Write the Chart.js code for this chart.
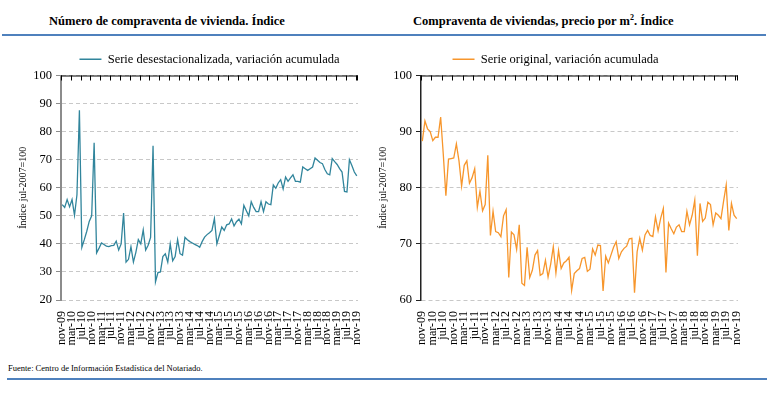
<!DOCTYPE html>
<html lang="es">
    <head>
        <meta charset="UTF-8" />
        <title>Compraventa de viviendas</title>
        <style>
            body {
                margin: 0;
                width: 770px;
                height: 399px;
                background: #fff;
                font-family: "Liberation Serif", "Times New Roman", serif;
                position: relative;
                overflow: hidden;
            }
            .titulo {
                position: absolute;
                top: 14px;
                font-weight: bold;
                font-size: 12.5px;
                white-space: nowrap;
            }
            .titulo sup {
                font-size: 8px;
                line-height: 0;
            }
            .linea {
                position: absolute;
                height: 2px;
                background: #4f81bd;
            }
            .fuente {
                position: absolute;
                left: 8px;
                top: 363px;
                font-size: 8.5px;
            }
            canvas {
                position: absolute;
            }
        </style>
        <script src="https://cdn.jsdelivr.net/npm/chart.js"></script>
    </head>
    <body>
        <div class="titulo" style="left: 49px">Número de compraventa de vivienda. Índice</div>
        <div class="titulo" style="left: 413px">Compraventa de viviendas, precio por m<sup>2</sup>. Índice</div>
        <div class="linea" style="left: 2px; top: 34px; width: 764px"></div>

        <canvas id="izq" width="385" height="310" style="left: 0; top: 40px"></canvas>
        <canvas id="der" width="400" height="310" style="left: 370px; top: 40px"></canvas>

        <div class="fuente">Fuente: Centro de Información Estadística del Notariado.</div>
        <div class="linea" style="left: 7px; top: 378px; width: 760px"></div>

        <script>
            // meses nov-09 ... nov-19
            const nombresMes = ["ene", "feb", "mar", "abr", "may", "jun", "jul", "ago", "sep", "oct", "nov", "dic"];
            const meses = [];
            for (let i = 0; i < 121; i++) {
                const m = (10 + i) % 12;
                const a = 9 + Math.floor((10 + i) / 12);
                meses.push(nombresMes[m] + "-" + String(a).padStart(2, "0"));
            }

            // Número de compraventas, serie desestacionalizada (jul-2007=100)
            const numeroCompraventas = [
                54, 53, 55.8, 53.2, 55.8, 50.2, 57.5, 87.6, 38.8, 41.5,
                44.5, 48, 50, 76, 36.8, 38.5, 40.3, 39.8, 39.2, 39,
                39.4, 39.5, 41, 37.8, 40, 51, 33.5, 34.5, 39, 33.5,
                37, 41.5, 40, 45, 37.8, 39.5, 42.3, 75, 26.5, 29.8,
                30, 35.5, 36.5, 33.5, 40, 34, 35.5, 41.5, 36.5, 36,
                42.3, 41.5, 40.8, 40.3, 39.8, 39.4, 38.8, 40.8, 42.4, 43.3,
                44, 44.8, 49, 40, 43, 46, 44.8, 46.8, 47.1, 48.9,
                46.4, 47.9, 48.8, 47.1, 53.7, 51.8, 50, 55, 53, 51.5,
                51.5, 55, 51.5, 55, 54.2, 54, 61, 59.8, 61.7, 62.9,
                59.6, 63.8, 62.3, 63.5, 64.6, 62.3, 62.3, 62, 67.4, 66.8,
                66.2, 66.8, 67.4, 70.6, 69.8, 69, 68.6, 66.5, 65, 64.6,
                70.4, 69.3, 68.3, 66.8, 65.6, 58.7, 58.5, 70, 67.9, 65.6,
                64.2
            ];

            // Precio por m2, serie original (jul-2007=100)
            const precioM2 = [
                88.3, 91.9, 90.5, 90, 88.4, 89, 89, 92.6, 86, 78.6,
                85.1, 85.2, 85.3, 87.8, 84.8, 80.3, 84, 84.8, 80.8, 81.8,
                83.4, 76.5, 79.4, 75.9, 77, 85.8, 71.5, 75.8, 72.2, 72,
                71.3, 75, 76.1, 64, 72.1, 71.6, 69, 73.4, 63, 62.6,
                69.4, 64, 65.3, 68, 68.8, 64.4, 64.7, 67.1, 64.1, 66.4,
                69.5, 64.8, 68.8, 65.6, 66.6, 67, 67.6, 61.7, 64.7, 65.2,
                65.6, 67.4, 67.6, 65.1, 65.5, 69.1, 68, 69.8, 69.7, 61.6,
                67.8, 66.6, 68, 69.4, 70.4, 67.4, 68.6, 69.2, 69.6, 70.9,
                71, 61.3, 68.6, 71, 68.9, 71.6, 72.4, 71.5, 71.3, 74.8,
                72.3, 74.6, 76.3, 64.9, 73.7, 72.7, 71.8, 73, 73.4, 72.2,
                72.2, 75.8, 73.4, 75.1, 77.8, 67.9, 77.2, 74, 74.6, 77.4,
                77, 73.4, 75.5, 75.1, 74.5, 77.6, 80.5, 72.4, 77.2, 75.1,
                74.5
            ];

            const rangoIzq = [20, 100];
            const rangoDer = [60, 100];
            const tituloEjeY = "Índice jul-2007=100";
            const fuente = "'Liberation Serif', 'Times New Roman', serif";

            // linea superior con marcas cada 4 meses (eje de categorias arriba)
            const ejeSuperior = {
                id: "ejeSuperior",
                afterDatasetsDraw(chart) {
                    const { ctx, chartArea: a, scales } = chart;
                    const x = scales.x;
                    const paso = x.getPixelForValue(1) - x.getPixelForValue(0);
                    ctx.save();
                    ctx.strokeStyle = "#000";
                    ctx.lineWidth = 1;
                    ctx.beginPath();
                    ctx.moveTo(a.left, a.top + 0.5);
                    ctx.lineTo(a.right, a.top + 0.5);
                    for (let i = 0; i <= meses.length; i += 4) {
                        const px = Math.round(x.getPixelForValue(i) - paso / 2) + 0.5;
                        ctx.moveTo(px, a.top);
                        ctx.lineTo(px, a.top + 5);
                    }
                    ctx.moveTo(a.right - 0.5, a.top);
                    ctx.lineTo(a.right - 0.5, a.top + 5);
                    ctx.stroke();
                    ctx.restore();
                },
            };

            function grafico(id, serie, color, etiqueta, rango, ejeColor, ejeAncho, pad, leyendaAncha) {
                return new Chart(document.getElementById(id), {
                    type: "line",
                    data: {
                        labels: meses,
                        datasets: [
                            {
                                label: etiqueta,
                                data: serie,
                                borderColor: color,
                                backgroundColor: color,
                                borderWidth: 1.3,
                                pointRadius: 0,
                                tension: 0,
                            },
                        ],
                    },
                    options: {
                        responsive: false,
                        animation: false,
                        layout: { padding: pad },
                        plugins: {
                            legend: {
                                position: "top",
                                fullSize: leyendaAncha,
                                labels: {
                                    usePointStyle: true,
                                    pointStyle: "line",
                                    pointStyleWidth: 22,
                                    color: "#000",
                                    padding: 11,
                                    font: { family: fuente, size: 12.5 },
                                },
                            },
                            tooltip: { enabled: false },
                        },
                        scales: {
                            x: {
                                offset: true,
                                grid: { display: false },
                                border: { display: false },
                                ticks: {
                                    autoSkip: false,
                                    maxRotation: 90,
                                    minRotation: 90,
                                    padding: 3,
                                    color: "#000",
                                    font: { family: fuente, size: 12 },
                                    callback: function (v, i) {
                                        return i % 4 === 0 ? this.getLabelForValue(v) : "";
                                    },
                                },
                                afterFit: (s) => {
                                    s.height = 50;
                                },
                            },
                            y: {
                                min: rango[0],
                                max: rango[1],
                                ticks: {
                                    stepSize: 10,
                                    padding: 4,
                                    color: "#000",
                                    font: { family: fuente, size: 12.5 },
                                },
                                grid: {
                                    color: "#c8c8c8",
                                    lineWidth: 1,
                                    drawTicks: true,
                                    tickLength: 5,
                                    tickColor: ejeColor,
                                    tickBorderDash: [],
                                },
                                border: {
                                    display: true,
                                    color: ejeColor,
                                    width: ejeAncho,
                                    dash: [4, 3],
                                },
                                title: {
                                    display: true,
                                    text: tituloEjeY,
                                    color: "#000",
                                    padding: { top: 4, bottom: 2 },
                                    font: { family: fuente, size: 10 },
                                },
                                afterFit: (s) => {
                                    s.width = 48;
                                },
                            },
                        },
                    },
                    plugins: [ejeSuperior],
                });
            }

            grafico("izq", numeroCompraventas, "#31859c", "Serie desestacionalizada, variación acumulada",
                rangoIzq, "#8c8c8c", 2, { left: 13, right: 27, top: 2, bottom: 0 }, false);
            grafico("der", precioM2, "#f7962c", "Serie original, variación acumulada",
                rangoDer, "#222", 1.5, { left: 3, right: 32, top: 2, bottom: 0 }, true);
        </script>
    </body>
</html>
